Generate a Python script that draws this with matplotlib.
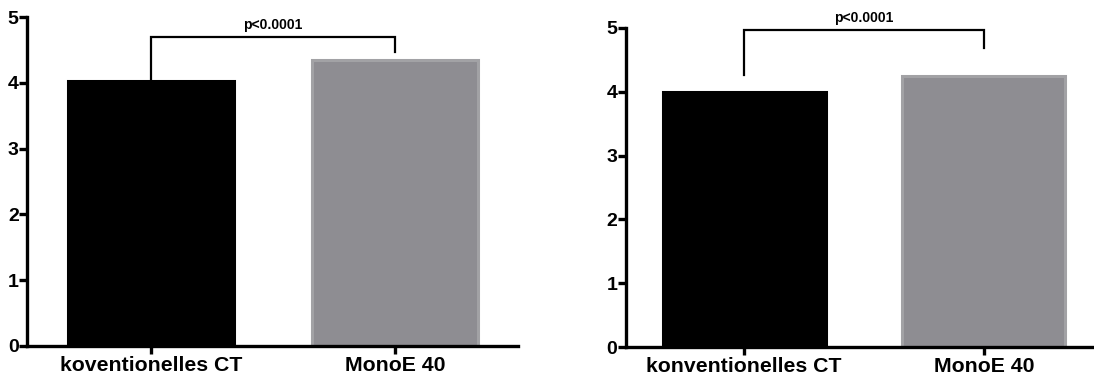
import matplotlib
matplotlib.use("Agg")
import matplotlib.pyplot as plt

plt.rcParams['font.family'] = ['Liberation Sans', 'DejaVu Sans']
plt.rcParams['font.weight'] = 'bold'

# Dados
categorias_esq = ["koventionelles CT", "MonoE 40"]
valores_esq = [4.03, 4.35]
categorias_dir = ["konventionelles CT", "MonoE 40"]
valores_dir = [4.00, 4.25]
p_texto = "p<0.0001"

# colchete de significância: altura, fim da perna esquerda, fim da perna direita
colchete_esq = [4.70, 4.06, 4.47]
colchete_dir = [4.97, 4.26, 4.68]

cores = ["#000000", "#8e8d92"]
bordas = ["#000000", "#a2a2a5"]

fig = plt.figure(figsize=(10.94, 3.79), dpi=100)
ax1 = fig.add_axes([0.0247, 0.0871, 0.449, 0.868])
ax2 = fig.add_axes([0.572, 0.0844, 0.428, 0.842])


def desenha(ax, cats, vals, colchete, xlim, texto_y):
    x = list(range(len(cats)))
    ax.bar(x, vals, width=0.68, color=cores, edgecolor=bordas, linewidth=2.2)
    ax.set_xlim(*xlim)
    ax.set_ylim(0, 5)
    ax.set_yticks([0, 1, 2, 3, 4, 5])
    ax.set_xticks(x)
    ax.set_xticklabels(cats, fontsize=15.3, fontweight='bold')
    for lab in ax.get_yticklabels():
        lab.set_fontsize(14)
        lab.set_fontweight('bold')
    for s in ['top', 'right']:
        ax.spines[s].set_visible(False)
    for s in ['left', 'bottom']:
        ax.spines[s].set_linewidth(2.4)
    ax.tick_params(width=2.4, length=6, pad=0)
    ax.tick_params(axis='x', pad=1)
    h, l0, l1 = colchete
    ax.plot([0, 0, 1, 1], [l0, h, h, l1], color='black', lw=1.6,
            clip_on=False, solid_joinstyle='miter')
    ax.text(0.5, texto_y, p_texto, ha='center', va='bottom',
            fontsize=10, fontweight='bold')


desenha(ax1, categorias_esq, valores_esq, colchete_esq, (-0.508, 1.504), 4.77)
desenha(ax2, categorias_dir, valores_dir, colchete_dir, (-0.494, 1.46), 5.04)

fig.savefig("out.png", dpi=100)
